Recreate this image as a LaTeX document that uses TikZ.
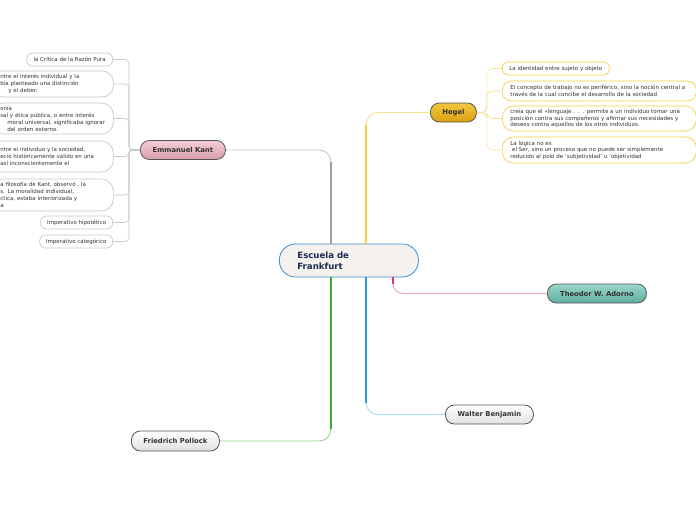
\documentclass[tikz,border=0pt]{standalone}
\usepackage{fontspec}
\setmainfont{DejaVu Sans}
\usetikzlibrary{calc}
\definecolor{txt}{HTML}{333333}
\definecolor{navy}{HTML}{1A2A50}
\definecolor{bord}{HTML}{555555}
\definecolor{cblue}{HTML}{3A8FD0}
\definecolor{cfill}{HTML}{F5F1EF}
\definecolor{hy}{HTML}{F5D040}
\definecolor{hyl}{HTML}{F8E088}
\definecolor{kg}{HTML}{A0A0A0}
\definecolor{kgl}{HTML}{C8C8C8}
\definecolor{ared}{HTML}{E8306A}
\definecolor{apink}{HTML}{F0A8C0}
\definecolor{bblue}{HTML}{2A9AE0}
\definecolor{bblul}{HTML}{A8DAF4}
\definecolor{pgreen}{HTML}{3CA83C}
\definecolor{pgrel}{HTML}{98D090}
\definecolor{htop}{HTML}{F2C640}
\definecolor{hbot}{HTML}{DCA010}
\definecolor{ktop}{HTML}{F4CED6}
\definecolor{kbot}{HTML}{D89CAC}
\definecolor{atop}{HTML}{9AD6CA}
\definecolor{abot}{HTML}{5FAE9E}
\begin{document}
\begin{tikzpicture}[x=1pt,y=-1pt,
  branch/.style={draw=bord, line width=0.8pt, rounded corners=9pt, minimum height=19pt, inner sep=0pt, anchor=west, text=txt, font=\fontsize{6.8}{8}\selectfont\bfseries},
  hchild/.style={draw=hy, line width=0.7pt, fill=white, anchor=west, text=txt, font=\fontsize{5.5}{6.6}\selectfont, inner ysep=2pt},
  kchild/.style={draw=kgl, line width=0.7pt, fill=white, text=txt, font=\fontsize{5.5}{7}\selectfont, inner ysep=2pt},
  hline/.style={draw=hyl, line width=0.6pt, rounded corners=6pt},
  kline/.style={draw=kgl, line width=0.6pt, rounded corners=4pt}
]
\useasboundingbox (0,0) rectangle (696,520);
\clip (0,0) rectangle (696,520);
\fill[white] (0,0) rectangle (696,520);

% central
\node[draw=cblue, line width=0.8pt, fill=cfill, rounded corners=16pt, anchor=west,
  minimum height=33pt, text width=103pt, inner xsep=18pt, align=left, text=navy,
  font=\fontsize{8.6}{11}\selectfont\bfseries] (center) at (279,260.5) {Escuela de\\Frankfurt};

% branches
\node[branch, minimum width=46pt, top color=htop, bottom color=hbot] (hegel) at (430,112.5) {Hegel};
\node[branch, minimum width=85pt, top color=ktop, bottom color=kbot] (kant) at (140,150) {Emmanuel Kant};
\node[branch, minimum width=99pt, top color=atop, bottom color=abot] (adorno) at (547,293.5) {Theodor W. Adorno};
\node[branch, minimum width=88pt, top color=white, bottom color=black!12] (benjamin) at (445,414.5) {Walter Benjamin};
\node[branch, minimum width=88pt, minimum height=20pt, top color=white, bottom color=black!12] (pollock) at (131,441) {Friedrich Pollock};

% anchor points on central node
\coordinate (cK) at ([xshift=52pt]center.north west);
\coordinate (cH) at ([xshift=87pt]center.north west);
\coordinate (cA) at ([xshift=114pt]center.south west);
\coordinate (cB) at ([xshift=87pt]center.south west);
\coordinate (cP) at ([xshift=52pt]center.south west);

% main connectors
\draw[kgl, line width=0.9pt, rounded corners=12pt] (kant.east) -| (cK);
\draw[kg, line width=2pt] (cK) -- ([yshift=-12pt]cK |- kant.east);
\draw[hyl, line width=0.9pt, rounded corners=12pt] (cH) |- (hegel.west);
\draw[hy, line width=2pt] (cH) -- ([yshift=-12pt]cH |- hegel.west);
\draw[apink, line width=1pt, rounded corners=10pt] (cA) |- (adorno.west);
\draw[ared, line width=2pt] (cA) -- ([yshift=10pt]cA |- adorno.west);
\draw[bblul, line width=0.9pt, rounded corners=12pt] (cB) |- (benjamin.west);
\draw[bblue, line width=2pt] (cB) -- ([yshift=12pt]cB |- benjamin.west);
\draw[pgrel, line width=0.9pt, rounded corners=12pt] (cP) |- (pollock.east);
\draw[pgreen, line width=2pt] (cP) -- ([yshift=12pt]cP |- pollock.east);

% Hegel children
\node[hchild, rounded corners=6pt, minimum width=107pt, minimum height=13pt, inner xsep=2pt] (h1) at (502,68.5) {La identidad entre sujeto y objeto};
\node[hchild, rounded corners=9pt, minimum height=20pt, text width=178pt, inner xsep=8pt, align=left] (h2) at (502,91) {El concepto de trabajo no es periférico, sino la noción central a\\través de la cual concibe el desarrollo de la sociedad};
\node[hchild, rounded corners=11pt, minimum height=25pt, text width=178pt, inner xsep=8pt, align=left] (h3) at (502,118.5) {creía que el «lenguaje . . . permite a un individuo tomar una\\posición contra sus compañeros y afirmar sus necesidades y\\deseos contra aquellos de los otros individuos.};
\node[hchild, rounded corners=11pt, minimum height=26pt, text width=178pt, inner xsep=8pt, align=left] (h4) at (502,150) {La lógica no es\\\ el Ser, sino un proceso que no puede ser simplemente\\reducido al polo de 'subjetividad' u 'objetividad};
\foreach \c in {h1,h2,h3,h4} \draw[hline] (hegel.east) -- ++(10,0) |- (\c.west);

% Kant children
\node[kchild, anchor=east, rounded corners=6pt, minimum width=86pt, minimum height=13pt, inner xsep=2pt] (k1) at (113,59.5) {la Crítica de la Razón Pura};
\node[kchild, anchor=west, rounded corners=11pt, minimum height=26pt, text width=103pt, inner xsep=10pt, align=left] (k2) at (-10,84) {\mbox{ntre el interés individual y la}\\\mbox{bía planteado una distinción}\\\mbox{\hspace*{8pt}y el deber.}};
\node[kchild, anchor=west, rounded corners=12pt, minimum height=31pt, text width=103pt, inner xsep=10pt, align=left] (k3) at (-10,118.5) {\mbox{onía}\\\mbox{sal y ética pública, o entre interés}\\\mbox{\hspace*{7pt}moral universal, significaba ignorar}\\\mbox{\hspace*{7pt}del orden externo.}};
\node[kchild, anchor=west, rounded corners=12pt, minimum height=31pt, text width=103pt, inner xsep=10pt, align=left] (k4) at (-10,156.5) {\mbox{ntre el individuo y la sociedad,}\\\mbox{ecio históricamente válido en una}\\\mbox{así inconscientemente el}};
\node[kchild, anchor=west, rounded corners=12pt, minimum height=32pt, text width=103pt, inner xsep=10pt, align=left] (k5) at (-10,195) {\mbox{a filosofía de Kant, observó , la}\\\mbox{s. La moralidad individual,}\\\mbox{ctica, estaba interiorizada y}\\\mbox{a}};
\node[kchild, anchor=east, rounded corners=6pt, minimum width=72pt, minimum height=13pt, inner xsep=2pt] (k6) at (113,222.5) {Imperativo hipotético};
\node[kchild, anchor=east, rounded corners=6pt, minimum width=73pt, minimum height=13pt, inner xsep=2pt] (k7) at (113,241.5) {Imperativo categórico};
\foreach \c in {k1,k2,k3,k4,k5,k6,k7} \draw[kline] (kant.west) -- ++(-11,0) |- (\c.east);
\end{tikzpicture}
\end{document}
